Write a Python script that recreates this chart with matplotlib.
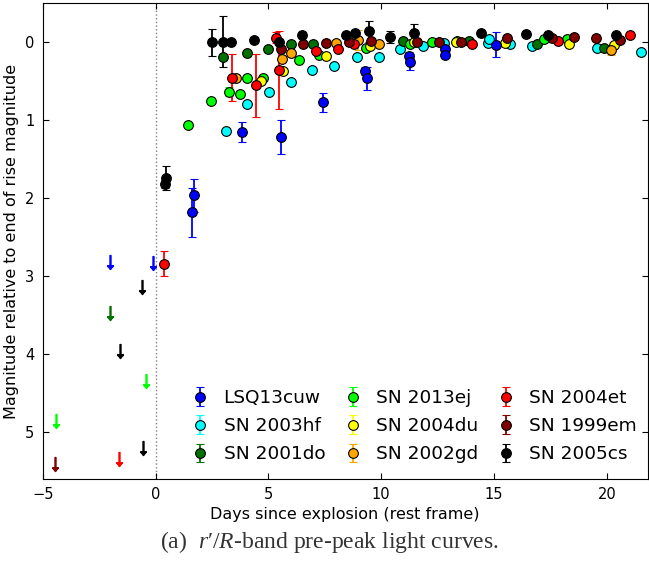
import numpy as np
import matplotlib
matplotlib.use("Agg")
import matplotlib.pyplot as plt

# ---- data (days since explosion, mag relative to end of rise)
names = ["LSQ13cuw", "SN 2003hf", "SN 2001do", "SN 2013ej", "SN 2004du",
         "SN 2002gd", "SN 2004et", "SN 1999em", "SN 2005cs"]
colors = ["#0000ff", "#00ffff", "#007000", "#00ff00", "#ffff00",
          "#ffa500", "#ff0000", "#800000", "#000000"]

lsq_days = [1.63, 1.72, 3.85, 5.55, 7.41, 9.29, 9.37, 11.21, 11.27, 12.82, 12.82, 15.09]
lsq_mags = [2.19, 1.97, 1.16, 1.22, 0.78, 0.38, 0.47, 0.18, 0.26, 0.10, 0.17, 0.04]
lsq_errs = [0.31, 0.21, 0.13, 0.22, 0.12, 0.05, 0.15, 0.05, 0.10, 0.03, 0.03, 0.16]

hf_days = [3.14, 4.04, 5.02, 5.98, 6.95, 7.92, 8.92, 9.88, 10.84, 11.83, 12.80, 14.75, 14.79,
           15.72, 16.67, 19.56, 21.52]
hf_mags = [1.15, 0.80, 0.64, 0.52, 0.37, 0.31, 0.20, 0.20, 0.09, 0.05, 0.02, 0.02, -0.03,
           0.03, 0.05, 0.08, 0.13]
hf_errs = [0.03] * len(hf_days)

do_days = [3.00, 4.04, 4.99, 5.98, 6.97, 10.95, 13.89, 16.90, 19.86]
do_mags = [0.20, 0.15, 0.10, 0.03, 0.03, -0.01, -0.01, 0.03, 0.08]
do_errs = [0.03] * len(do_days)

ej_days = [1.43, 2.47, 3.26, 3.75, 4.07, 4.74, 6.36, 7.26, 9.32, 11.29, 12.27, 13.36, 17.20, 18.23]
ej_mags = [1.07, 0.76, 0.64, 0.67, 0.47, 0.46, 0.24, 0.17, 0.08, 0.03, 0.01, -0.01, -0.03, -0.03]
ej_errs = [0.03, 0.03, 0.06, 0.03, 0.03, 0.03, 0.03, 0.03, 0.03, 0.03, 0.03, 0.03, 0.03, 0.03]

du_days = [4.68, 5.64, 7.55, 9.51, 11.45, 13.30, 15.47, 18.32, 20.33]
du_mags = [0.51, 0.38, 0.19, 0.05, 0.01, 0.00, 0.02, 0.03, 0.04]
du_errs = [0.03] * len(du_days)

gd_days = [3.56, 5.62, 6.00, 7.99, 8.95, 9.90, 20.19]
gd_mags = [0.46, 0.22, 0.14, 0.02, -0.02, 0.03, 0.11]
gd_errs = [0.03, 0.03, 0.03, 0.03, 0.13, 0.03, 0.06]

et_days = [0.36, 3.38, 4.43, 5.34, 5.49, 7.10, 8.09, 8.80, 14.04, 17.82, 21.03]
et_mags = [2.85, 0.46, 0.56, -0.05, 0.36, 0.12, 0.09, 0.03, 0.03, -0.01, -0.08]
et_errs = [0.16, 0.30, 0.40, 0.07, 0.50, 0.03, 0.03, 0.03, 0.03, 0.03, 0.03]

em_days = [5.57, 6.55, 7.56, 8.55, 9.54, 11.57, 12.57, 13.55, 15.56, 17.57, 18.55, 19.53, 20.58]
em_mags = [0.09, 0.03, 0.02, 0.01, -0.01, 0.01, 0.00, 0.00, -0.04, -0.05, -0.06, -0.05, -0.02]
em_errs = [0.03] * len(em_days)

cs_days = [0.45, 0.42, 2.49, 2.98, 3.35, 4.35, 5.48, 6.48, 8.43, 8.85, 9.44, 10.40, 11.43,
           14.40, 16.42, 17.39, 20.41]
cs_mags = [1.75, 1.83, 0.01, 0.00, 0.00, -0.02, 0.00, -0.09, -0.09, -0.11, -0.13, -0.06, -0.11,
           -0.11, -0.10, -0.08, -0.08]
cs_errs = [0.15, 0.05, 0.17, 0.33, 0.02, 0.02, 0.03, 0.03, 0.03, 0.03, 0.13, 0.08, 0.12,
           0.03, 0.03, 0.03, 0.03]

# upper limits (non-detections) before explosion
ul_days = [-2.02, -0.10, -0.60, -1.57, -0.55, -2.00, -0.42, -4.41, -1.60, -4.44]
ul_mags = [2.82, 2.84, 3.14, 3.97, 5.21, 3.48, 4.35, 4.86, 5.35, 5.41]
ul_cols = ["#0000ff", "#0000ff", "#000000", "#000000", "#000000", "#007000",
           "#00ff00", "#00ff00", "#ff0000", "#800000"]

series = [(lsq_days, lsq_mags, lsq_errs), (hf_days, hf_mags, hf_errs),
          (do_days, do_mags, do_errs), (ej_days, ej_mags, ej_errs),
          (du_days, du_mags, du_errs), (gd_days, gd_mags, gd_errs),
          (et_days, et_mags, et_errs), (em_days, em_mags, em_errs),
          (cs_days, cs_mags, cs_errs)]

plt.rcParams['font.family'] = ['DejaVu Sans']
plt.rcParams['mathtext.fontset'] = 'custom'
plt.rcParams['mathtext.rm'] = 'Liberation Serif'
plt.rcParams['mathtext.it'] = 'Liberation Serif:italic'
plt.rcParams['xtick.direction'] = 'in'
plt.rcParams['ytick.direction'] = 'in'
plt.rcParams['xtick.top'] = True
plt.rcParams['ytick.right'] = True
plt.rcParams['xtick.major.size'] = 4
plt.rcParams['ytick.major.size'] = 4

fig = plt.figure(figsize=(6.49, 5.63), dpi=100)
ax = fig.add_axes([0.0658, 0.150, 0.932, 0.844])

ax.axvline(0, color='grey', ls=':', lw=1, zorder=0)

handles = []
for i, (d, m, e) in enumerate(series):
    z = 5 if i == 0 else 3
    h = ax.errorbar(d, m, yerr=e, fmt='o', color=colors[i], ecolor=colors[i],
                    mec='black', mew=0.8, ms=7, capsize=3, elinewidth=1.3,
                    capthick=1.3, zorder=z, label=names[i])
    handles.append(h)

for x, y, c in zip(ul_days, ul_mags, ul_cols):
    ax.plot(x, y, marker=r'$\downarrow$', color=c, ms=10, ls='none', zorder=4)

ax.set_xlim(-5, 21.8)
ax.set_ylim(5.6, -0.49)
ax.set_xticks([-5, 0, 5, 10, 15, 20])
ax.set_yticks([0, 1, 2, 3, 4, 5])
ax.tick_params(labelsize=10.5, pad=6)
ax.set_xlabel('Days since explosion (rest frame)', fontsize=11.5)
ax.set_ylabel('Magnitude relative to end of rise magnitude', fontsize=11.5)

ax.legend(handles=handles, loc='lower left', ncol=3, frameon=False, fontsize=13.3,
          numpoints=1, handlelength=1.0, handletextpad=0.75, columnspacing=1.0,
          labelspacing=0.55, bbox_to_anchor=(0.218, -0.003))

fig.text(0.508, 0.026, "(a)  $r′/R$-band pre-peak light curves.",
         family='Liberation Serif', fontsize=17, color='#333333', ha='center')

fig.savefig('out.png', dpi=100)
